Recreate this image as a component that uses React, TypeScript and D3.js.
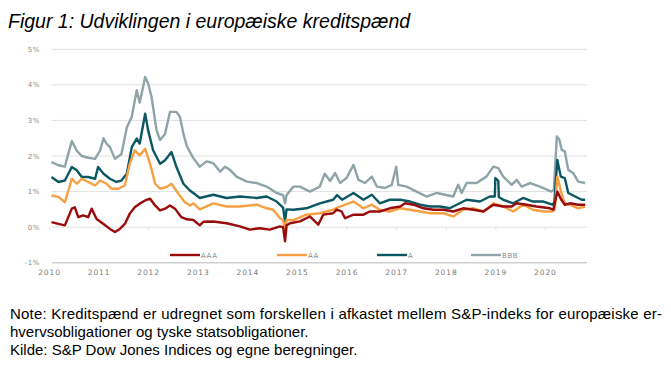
import React from 'react';
import * as d3 from 'd3';

type Pt = [number, number];

// [decimal year, spread in %]
const aaa: Pt[] = [
  [2010.04, 0.14], [2010.18, 0.09], [2010.31, 0.05], [2010.45, 0.52], [2010.51, 0.56], [2010.58, 0.28],
  [2010.68, 0.33], [2010.78, 0.28], [2010.85, 0.52], [2010.95, 0.23], [2011.09, 0.09], [2011.22, -0.05],
  [2011.32, -0.14], [2011.42, -0.05], [2011.52, 0.09], [2011.62, 0.38], [2011.72, 0.56], [2011.82, 0.66],
  [2011.93, 0.75], [2012.03, 0.8], [2012.13, 0.61], [2012.23, 0.47], [2012.33, 0.52], [2012.43, 0.61],
  [2012.53, 0.52], [2012.66, 0.28], [2012.77, 0.22], [2012.9, 0.2], [2013.03, 0.05], [2013.1, 0.15],
  [2013.3, 0.16], [2013.57, 0.11], [2013.84, 0.02], [2014.04, -0.07], [2014.24, -0.03], [2014.44, -0.07],
  [2014.65, 0.02], [2014.71, 0.0], [2014.75, -0.4], [2014.78, 0.05], [2014.85, 0.11], [2015.05, 0.16],
  [2015.25, 0.3], [2015.42, 0.07], [2015.52, 0.35], [2015.72, 0.39], [2015.79, 0.49], [2015.89, 0.44],
  [2015.96, 0.25], [2016.13, 0.35], [2016.33, 0.35], [2016.46, 0.44], [2016.66, 0.44], [2016.86, 0.53],
  [2017.07, 0.58], [2017.17, 0.67], [2017.34, 0.63], [2017.54, 0.53], [2017.74, 0.49], [2017.94, 0.49],
  [2018.14, 0.44], [2018.34, 0.53], [2018.55, 0.49], [2018.75, 0.44], [2018.95, 0.63], [2019.15, 0.58],
  [2019.32, 0.58], [2019.42, 0.67], [2019.62, 0.63], [2019.82, 0.58], [2020.09, 0.53], [2020.16, 0.49],
  [2020.24, 1.0], [2020.32, 0.77], [2020.39, 0.63], [2020.49, 0.67], [2020.66, 0.63], [2020.8, 0.63],
];

const aa: Pt[] = [
  [2010.04, 0.89], [2010.18, 0.85], [2010.31, 0.7], [2010.45, 1.36], [2010.55, 1.22], [2010.65, 1.36],
  [2010.78, 1.27], [2010.92, 1.17], [2011.02, 1.31], [2011.15, 1.22], [2011.25, 1.08], [2011.39, 1.08],
  [2011.52, 1.17], [2011.62, 1.78], [2011.72, 2.16], [2011.82, 2.02], [2011.93, 2.2], [2012.03, 1.78],
  [2012.13, 1.22], [2012.23, 1.08], [2012.36, 1.13], [2012.46, 1.22], [2012.6, 0.94], [2012.73, 0.7],
  [2012.83, 0.61], [2012.9, 0.67], [2013.03, 0.5], [2013.3, 0.67], [2013.57, 0.58], [2013.84, 0.58],
  [2014.18, 0.63], [2014.38, 0.53], [2014.51, 0.49], [2014.65, 0.25], [2014.71, 0.2], [2014.75, -0.12],
  [2014.78, 0.2], [2014.92, 0.2], [2015.18, 0.35], [2015.45, 0.39], [2015.72, 0.49], [2015.86, 0.58],
  [2016.13, 0.72], [2016.33, 0.53], [2016.5, 0.63], [2016.66, 0.49], [2016.86, 0.44], [2017.07, 0.53],
  [2017.27, 0.49], [2017.47, 0.44], [2017.67, 0.39], [2017.94, 0.39], [2018.14, 0.3], [2018.34, 0.49],
  [2018.55, 0.53], [2018.75, 0.44], [2018.95, 0.67], [2019.15, 0.58], [2019.35, 0.44], [2019.55, 0.63],
  [2019.75, 0.49], [2019.96, 0.44], [2020.14, 0.44], [2020.19, 0.5], [2020.24, 1.42], [2020.32, 0.96],
  [2020.39, 0.67], [2020.49, 0.63], [2020.66, 0.53], [2020.8, 0.58],
];

const a: Pt[] = [
  [2010.04, 1.41], [2010.18, 1.27], [2010.31, 1.31], [2010.45, 1.69], [2010.55, 1.6], [2010.65, 1.41],
  [2010.78, 1.41], [2010.92, 1.36], [2010.98, 1.69], [2011.09, 1.5], [2011.22, 1.36], [2011.35, 1.27],
  [2011.45, 1.31], [2011.56, 1.5], [2011.66, 2.25], [2011.76, 2.49], [2011.82, 2.35], [2011.93, 3.19],
  [2011.99, 2.72], [2012.09, 2.16], [2012.23, 1.78], [2012.33, 1.88], [2012.46, 2.11], [2012.56, 1.69],
  [2012.7, 1.22], [2012.83, 1.03], [2012.9, 0.96], [2013.03, 0.82], [2013.3, 0.91], [2013.57, 0.82],
  [2013.84, 0.86], [2014.18, 0.82], [2014.38, 0.86], [2014.58, 0.72], [2014.71, 0.55], [2014.75, 0.16],
  [2014.78, 0.5], [2014.92, 0.49], [2015.18, 0.53], [2015.45, 0.67], [2015.72, 0.77], [2015.8, 0.9],
  [2015.9, 0.77], [2016.13, 0.96], [2016.33, 0.77], [2016.5, 0.91], [2016.66, 0.67], [2016.86, 0.77],
  [2017.07, 0.77], [2017.27, 0.72], [2017.47, 0.63], [2017.67, 0.58], [2017.87, 0.58], [2018.07, 0.53],
  [2018.21, 0.63], [2018.41, 0.77], [2018.68, 0.72], [2018.88, 0.86], [2018.98, 0.86], [2018.99, 1.38],
  [2019.05, 1.3], [2019.06, 0.85], [2019.15, 0.77], [2019.35, 0.67], [2019.55, 0.82], [2019.75, 0.72],
  [2019.96, 0.72], [2020.14, 0.63], [2020.18, 0.7], [2020.24, 1.89], [2020.31, 1.42], [2020.39, 1.38],
  [2020.46, 0.96], [2020.6, 0.86], [2020.73, 0.77], [2020.8, 0.77],
];

const bbb: Pt[] = [
  [2010.04, 1.83], [2010.18, 1.74], [2010.31, 1.7], [2010.45, 2.42], [2010.55, 2.15], [2010.65, 2.0],
  [2010.78, 1.95], [2010.92, 1.92], [2011.02, 2.15], [2011.09, 2.5], [2011.15, 2.35], [2011.22, 2.25],
  [2011.32, 1.92], [2011.45, 2.05], [2011.56, 2.8], [2011.66, 3.1], [2011.76, 3.85], [2011.82, 3.5],
  [2011.93, 4.22], [2011.99, 4.04], [2012.06, 3.65], [2012.16, 2.72], [2012.23, 2.45], [2012.33, 2.62],
  [2012.43, 3.24], [2012.56, 3.24], [2012.63, 3.1], [2012.7, 2.63], [2012.77, 2.27], [2012.9, 1.94],
  [2013.03, 1.7], [2013.17, 1.85], [2013.3, 1.8], [2013.44, 1.56], [2013.54, 1.7], [2013.64, 1.61],
  [2013.77, 1.42], [2013.98, 1.28], [2014.18, 1.24], [2014.38, 1.14], [2014.58, 0.96], [2014.71, 0.9],
  [2014.75, 0.67], [2014.78, 0.9], [2014.92, 1.14], [2015.05, 1.14], [2015.25, 1.0], [2015.45, 1.14],
  [2015.55, 1.5], [2015.66, 1.3], [2015.76, 1.52], [2015.86, 1.24], [2015.99, 1.38], [2016.13, 1.75],
  [2016.23, 1.33], [2016.36, 1.24], [2016.5, 1.42], [2016.6, 1.14], [2016.76, 1.1], [2016.9, 1.19],
  [2016.99, 1.7], [2017.03, 1.19], [2017.2, 1.14], [2017.4, 1.0], [2017.6, 0.86], [2017.81, 0.96],
  [2017.97, 0.91], [2018.14, 0.86], [2018.24, 1.19], [2018.31, 0.96], [2018.41, 1.24], [2018.61, 1.24],
  [2018.81, 1.42], [2018.95, 1.7], [2019.05, 1.66], [2019.15, 1.42], [2019.32, 1.19], [2019.42, 1.33],
  [2019.52, 1.14], [2019.69, 1.24], [2019.89, 1.14], [2020.12, 1.0], [2020.17, 1.05], [2020.23, 2.55],
  [2020.28, 2.46], [2020.33, 2.17], [2020.39, 2.13], [2020.46, 1.61], [2020.56, 1.52], [2020.66, 1.28],
  [2020.8, 1.24],
];

const seriesNames = ['AAA', 'AA', 'A', 'BBB'];
const seriesColors = ['#9a0b0b', '#f7a043', '#0b5762', '#8ea4a8'];
const yTicks = [-1, 0, 1, 2, 3, 4, 5];
const years = [2010, 2011, 2012, 2013, 2014, 2015, 2016, 2017, 2018, 2019, 2020];

const title = 'Figur 1: Udviklingen i europæiske kreditspænd';
const noteLines = [
  'Note: Kreditspænd er udregnet som forskellen i afkastet mellem S&P-indeks for europæiske er-',
  'hvervsobligationer og tyske statsobligationer.',
  'Kilde: S&P Dow Jones Indices og egne beregninger.',
];

const toDate = (t: number) => {
  const y = Math.floor(t);
  const start = Date.UTC(y, 0, 1);
  const end = Date.UTC(y + 1, 0, 1);
  return new Date(start + (t - y) * (end - start));
};

export default function App() {
  const width = 671;
  const height = 374;

  const x = d3.scaleUtc()
    .domain([toDate(2010), toDate(2021)])
    .range([49.5, 49.5 + 11 * 49.6]);
  const y = d3.scaleLinear().domain([-1, 5]).range([262.7, 49.3]);

  const line = d3.line<Pt>()
    .x(d => x(toDate(d[0])))
    .y(d => y(d[1]));

  const data = [aaa, aa, a, bbb];
  const gridX0 = 52;
  const gridX1 = 587;
  const axisFont = 'DejaVu Sans, sans-serif';
  const textFont = 'Liberation Sans, Arial, sans-serif';
  const legendX = [170, 277, 377, 471];

  return (
    <svg width={width} height={height} style={{ position: 'absolute', left: 0, top: 0, background: '#fff' }}>
      <text x={8} y={28} fontFamily={textFont} fontStyle="italic" fontSize={19.5} fill="#000">
        {title}
      </text>

      {/* grid */}
      {yTicks.map(t => (
        <g key={t}>
          <line x1={gridX0} x2={gridX1} y1={y(t)} y2={y(t)}
            stroke={t === -1 ? '#d0d0d0' : '#e0e0e0'} strokeWidth={t === -1 ? 1.5 : 1} />
          <text x={40} y={y(t) + 2.5} textAnchor="end" fontFamily={axisFont} fontSize={7}
            letterSpacing={0.6} fill="#8a8a8a">{`${t}%`}</text>
        </g>
      ))}

      {/* year ticks on zero line */}
      {years.map(yr => (
        <line key={`t${yr}`} x1={x(toDate(yr))} x2={x(toDate(yr))} y1={y(0)} y2={y(0) + 3}
          stroke="#e0e0e0" strokeWidth={1} />
      ))}

      {years.map(yr => (
        <text key={yr} x={x(toDate(yr))} y={275} textAnchor="middle" fontFamily={axisFont}
          fontSize={7.5} letterSpacing={0.9} fill="#7a7a7a">{yr}</text>
      ))}

      {/* series, drawn BBB first so AAA is on top */}
      {data.map((d, i) => ({ d, i })).reverse().map(({ d, i }) => (
        <path key={seriesNames[i]} d={line(d) ?? ''} fill="none" stroke={seriesColors[i]}
          strokeWidth={2.4} strokeLinejoin="round" />
      ))}

      {/* legend */}
      {seriesNames.map((n, i) => (
        <g key={`l${n}`}>
          <line x1={legendX[i]} x2={legendX[i] + 30} y1={255} y2={255} stroke={seriesColors[i]} strokeWidth={2.4} />
          <text x={legendX[i] + 31} y={257.5} fontFamily={axisFont} fontSize={7} letterSpacing={0.6}
            fill="#8a8a8a">{n}</text>
        </g>
      ))}

      {noteLines.map((s, i) => (
        <text key={i} x={10} y={319 + i * 18} fontFamily={textFont} fontSize={15} fill="#000"
          {...(i === 0 ? { textLength: 652, lengthAdjust: 'spacing' } : {})}>{s}</text>
      ))}
    </svg>
  );
}
